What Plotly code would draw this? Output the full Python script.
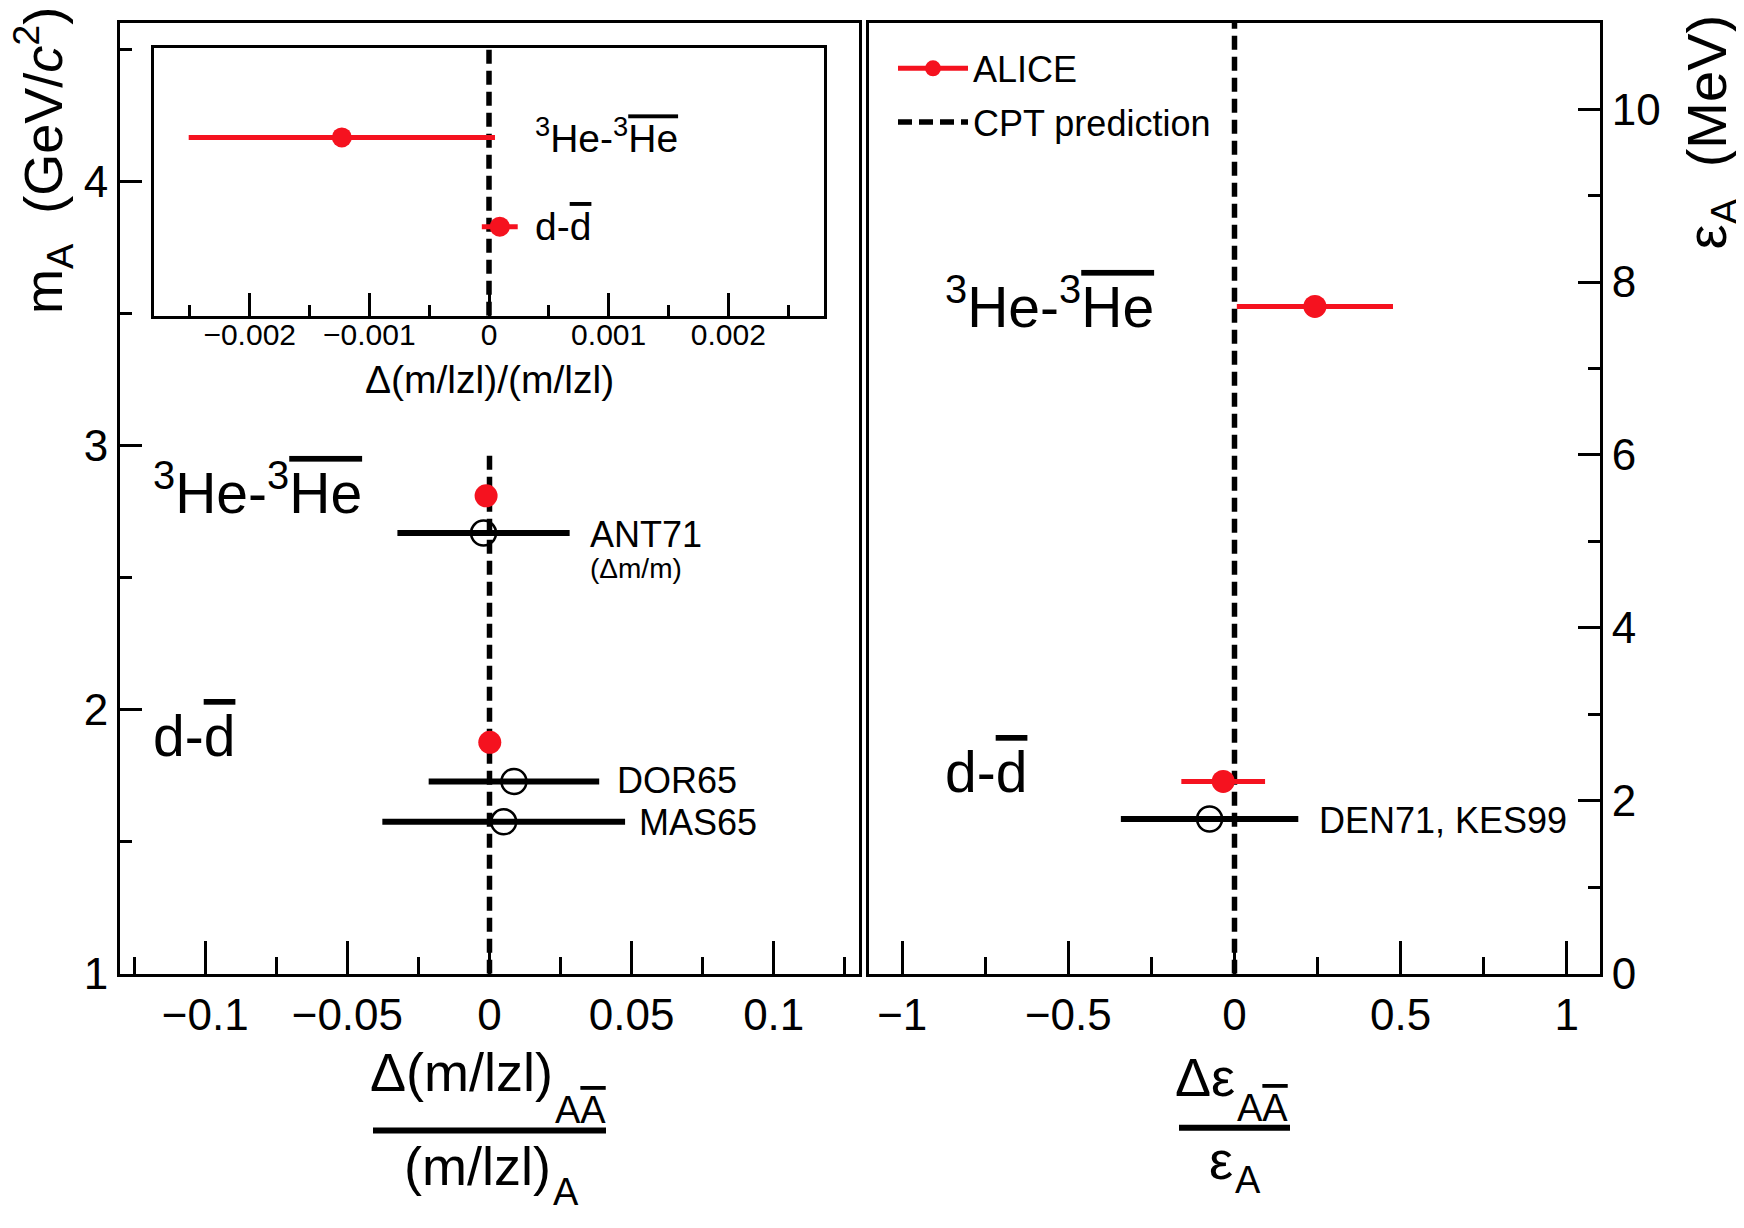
import plotly.graph_objects as go

# ALICE, left panel: relative m/|z| difference vs nucleus mass
alice_mass = [2.809, 1.876]
alice_dmz = [-0.0012, 0.0001]
alice_dmz_err = [0.0013, 0.00015]

# earlier measurements (left panel)
old_names = ['ANT71', 'DOR65', 'MAS65']
old_mass = [2.668, 1.728, 1.575]
old_dmz = [-0.0021, 0.0086, 0.005]
old_dmz_err = [0.0303, 0.030, 0.0427]

# inset: ALICE only, rows are 3He (2) and d (1)
inset_rows = [2, 1]
inset_dmz = [-0.00123, 0.00009]
inset_dmz_err = [0.00128, 0.00015]
inset_tickvals = [-0.002, -0.001, 0, 0.001, 0.002]
inset_ticktext = ['\u22120.002', '\u22120.001', '0', '0.001', '0.002']

# ALICE, right panel: relative binding energy difference vs binding energy (MeV)
alice_eps = [7.718, 2.224]
alice_deps = [0.242, -0.034]
alice_deps_err = [0.235, 0.126]

old_eps = [1.79]
old_deps = [-0.075]
old_deps_err = [0.267]

# CPT prediction
cpt = [0, 0]
cpt_left_span = [1, 2.97]
cpt_right_span = [0, 11]
cpt_inset_span = [0, 3]

W, H = 1744, 1228
RED = '#f5121f'
FONT = 'Liberation Sans, Arial, sans-serif'


def px(x):
    return x / W


def py(y):
    return 1 - y / H


fig = go.Figure()

DASH = dict(color='black', width=5.5, dash='14px,7px')

# ---- left panel
fig.add_trace(go.Scatter(x=cpt, y=cpt_left_span, mode='lines', line=DASH,
                         showlegend=False, xaxis='x', yaxis='y'))
fig.add_trace(go.Scatter(x=old_dmz, y=old_mass, mode='markers',
                         marker=dict(symbol='circle-open', size=25, color='black', line=dict(width=2.5)),
                         error_x=dict(type='data', array=old_dmz_err, color='black', thickness=6, width=0),
                         showlegend=False, xaxis='x', yaxis='y'))
fig.add_trace(go.Scatter(x=alice_dmz, y=alice_mass, mode='markers',
                         marker=dict(size=23, color=RED),
                         error_x=dict(type='data', array=alice_dmz_err, color=RED, thickness=5, width=0),
                         showlegend=False, xaxis='x', yaxis='y'))

# ---- inset
fig.add_trace(go.Scatter(x=cpt, y=cpt_inset_span, mode='lines', line=DASH,
                         showlegend=False, xaxis='x3', yaxis='y3'))
fig.add_trace(go.Scatter(x=inset_dmz, y=inset_rows, mode='markers',
                         marker=dict(size=20, color=RED),
                         error_x=dict(type='data', array=inset_dmz_err, color=RED, thickness=5, width=0),
                         showlegend=False, xaxis='x3', yaxis='y3'))

# ---- right panel
fig.add_trace(go.Scatter(x=cpt, y=cpt_right_span, mode='lines', line=DASH,
                         name='CPT prediction', legendrank=2, legendgroup='cpt',
                         xaxis='x2', yaxis='y2'))
fig.add_trace(go.Scatter(x=old_deps, y=old_eps, mode='markers',
                         marker=dict(symbol='circle-open', size=25, color='black', line=dict(width=2.5)),
                         error_x=dict(type='data', array=old_deps_err, color='black', thickness=6, width=0),
                         showlegend=False, xaxis='x2', yaxis='y2'))
for i in range(len(alice_eps)):
    fig.add_trace(go.Scatter(x=[alice_deps[i]], y=[alice_eps[i]], mode='lines+markers',
                             line=dict(color=RED, width=5),
                             marker=dict(size=23, color=RED),
                             error_x=dict(type='data', array=[alice_deps_err[i]], color=RED,
                                          thickness=5, width=0),
                             name='ALICE', legendrank=1, legendgroup='alice', showlegend=(i == 0),
                             xaxis='x2', yaxis='y2'))

frame = dict(showline=True, linecolor='black', linewidth=3, mirror=True,
             ticks='inside', tickcolor='black', tickwidth=3,
             showgrid=False, zeroline=False)
big_ticks = dict(size=44, color='black', family=FONT)
minor_in = dict(ticks='inside', tickwidth=3, tickcolor='black')

fig.update_layout(
    width=W, height=H,
    margin=dict(l=0, r=0, t=0, b=0),
    paper_bgcolor='white', plot_bgcolor='white',
    font=dict(family=FONT, color='black'),
    xaxis=dict(frame, domain=[px(112), px(851)], range=[-0.13, 0.13], dtick=0.05, ticklen=33,
               minor=dict(minor_in, dtick=0.025, ticklen=17),
               tickfont=big_ticks, ticklabelstandoff=0, anchor='y'),
    yaxis=dict(frame, domain=[py(985), py(15)], range=[1, 4.6], dtick=1, ticklen=22,
               minor=dict(minor_in, dtick=0.5, ticklen=12),
               tickfont=big_ticks, anchor='x'),
    xaxis2=dict(frame, domain=[px(861), px(1592)], range=[-1.1, 1.1], dtick=0.5, ticklen=33,
                minor=dict(minor_in, dtick=0.25, ticklen=17),
                tickfont=big_ticks, ticklabelstandoff=0, anchor='y2'),
    yaxis2=dict(frame, domain=[py(985), py(15)], range=[0, 11], dtick=2, ticklen=22, side='right',
                minor=dict(minor_in, dtick=1, ticklen=12),
                tickfont=big_ticks, anchor='x2'),
    xaxis3=dict(frame, domain=[px(146), px(816)], range=[-0.0028, 0.0028],
                tickvals=inset_tickvals, ticktext=inset_ticktext, ticklen=23,
                minor=dict(minor_in, dtick=0.0005, ticklen=11),
                tickfont=dict(size=30, color='black', family=FONT), ticklabelstandoff=-10,
                anchor='y3'),
    yaxis3=dict(frame, domain=[py(314), py(41)], range=[0, 3], ticks='', showticklabels=False,
                anchor='x3'),
    legend=dict(x=px(885), y=py(31), xanchor='left', yanchor='top', bgcolor='rgba(0,0,0,0)',
                font=dict(size=36, family=FONT, color='black'), itemwidth=70, tracegroupgap=4),
)

OVER = '<span style="text-decoration:overline">{}</span>'
he_pair = '<sup>3</sup>He-<sup>3</sup>' + OVER.format('He')
d_pair = 'd-' + OVER.format('d')

notes = [
    # left panel
    dict(text=he_pair, x=-0.119, y=2.835, xref='x', yref='y', size=57),
    dict(text=d_pair, x=-0.119, y=1.9, xref='x', yref='y', size=57),
    dict(text='ANT71', x=0.0345, y=2.664, xref='x', yref='y', size=36),
    dict(text='(\u0394m/m)', x=0.0345, y=2.535, xref='x', yref='y', size=28),
    dict(text='DOR65', x=0.0442, y=1.731, xref='x', yref='y', size=36),
    dict(text='MAS65', x=0.052, y=1.572, xref='x', yref='y', size=36),
    # inset
    dict(text=he_pair, x=0.00037, y=2.02, xref='x3', yref='y3', size=39),
    dict(text=d_pair, x=0.00037, y=1.0, xref='x3', yref='y3', size=39),
    # right panel
    dict(text=he_pair, x=-0.878, y=7.76, xref='x2', yref='y2', size=57),
    dict(text=d_pair, x=-0.878, y=2.33, xref='x2', yref='y2', size=57),
    dict(text='DEN71, KES99', x=0.249, y=1.77, xref='x2', yref='y2', size=36),
]
for n in notes:
    fig.add_annotation(text=n['text'], x=n['x'], y=n['y'], xref=n['xref'], yref=n['yref'],
                       xanchor='left', yanchor='middle', showarrow=False,
                       font=dict(size=n['size'], family=FONT, color='black'))

# axis titles (paper pixels); fractions built from pieces so subscripts sit low
titles = [
    dict(text='\u0394(m/lzl)/(m/lzl)', x=481, y=379, size=39, angle=0, anchor='center'),
    dict(text='m<sub>A</sub>  (GeV/<i>c</i><sup>2</sup>)', x=35, y=156, size=54, angle=-90, anchor='center'),
    dict(text='\u03b5<sub>A</sub>  (MeV)', x=1703, y=127, size=56, angle=-90, anchor='center'),
    dict(text='\u0394(m/lzl)', x=547, y=1085, size=54, angle=0, anchor='right'),
    dict(text='A' + OVER.format('A'), x=545, y=1124, size=38, angle=0, anchor='left'),
    dict(text='(m/lzl)', x=545, y=1181, size=54, angle=0, anchor='right'),
    dict(text='A', x=543, y=1208, size=38, angle=0, anchor='left'),
    dict(text='\u0394\u03b5', x=1229, y=1090, size=54, angle=0, anchor='right'),
    dict(text='A' + OVER.format('A'), x=1227, y=1122, size=38, angle=0, anchor='left'),
    dict(text='\u03b5', x=1227, y=1175, size=54, angle=0, anchor='right'),
    dict(text='A', x=1225, y=1195, size=38, angle=0, anchor='left'),
]
for t in titles:
    fig.add_annotation(text=t['text'], x=px(t['x']), y=py(t['y']), xref='paper', yref='paper',
                       xanchor=t['anchor'], yanchor='middle', textangle=t['angle'], showarrow=False,
                       font=dict(size=t['size'], family=FONT, color='black'))

# fraction bars of the x titles
for x0, x1, y in [(365, 598, 1145), (1171, 1282, 1142)]:
    fig.add_shape(type='line', xref='paper', yref='paper', x0=px(x0), x1=px(x1), y0=py(y), y1=py(y),
                  line=dict(color='black', width=6))

fig.write_html("out.html")
